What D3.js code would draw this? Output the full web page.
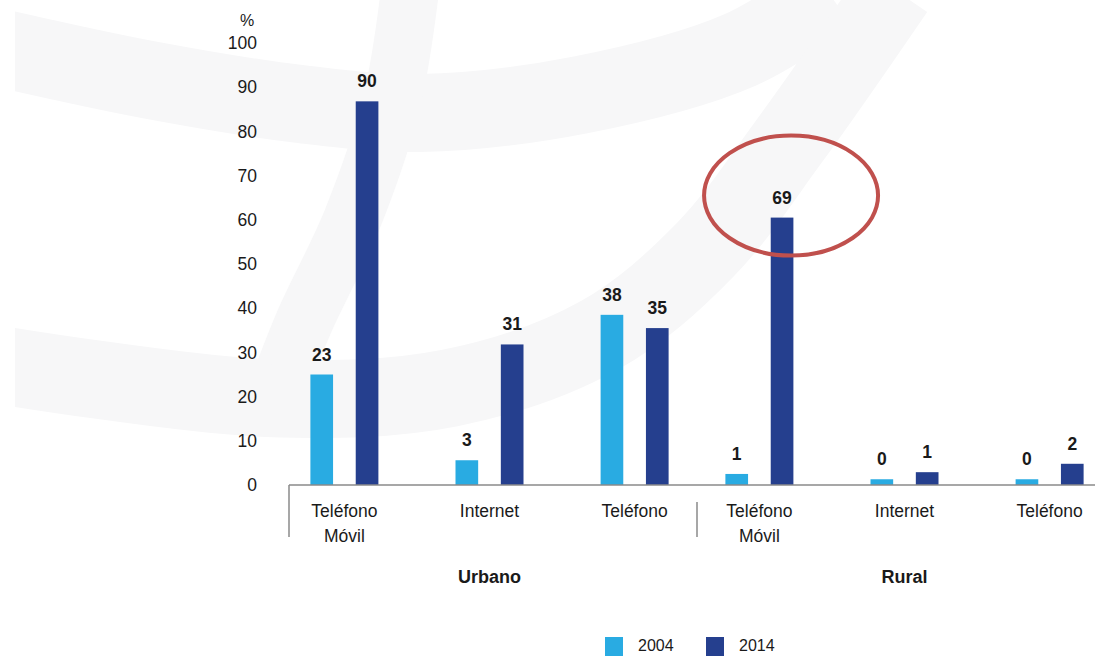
<!DOCTYPE html>
<html>
<head>
<meta charset="utf-8">
<script src="https://cdn.jsdelivr.net/npm/d3@7"></script>
<style>
  body { margin: 0; background: #fff; }
  text { font-family: "Liberation Sans", Arial, sans-serif; fill: #1a1a1a; }
</style>
</head>
<body>
<script>
// data
var regions = ["Urbano", "Rural"];
var categories = [["Teléfono", "Móvil"], ["Internet"], ["Teléfono"]];
var catKeys = ["movil", "internet", "telefono"];
var years = ["2004", "2014"];
// bar heights as drawn
var urbano2004 = [25, 5.6, 38.5];
var urbano2014 = [86.8, 31.8, 35.5];
var rural2004 = [2.5, 1.3, 1.3];
var rural2014 = [60.5, 2.9, 4.8];
// printed labels
var urbanoLbl2004 = [23, 3, 38];
var urbanoLbl2014 = [90, 31, 35];
var ruralLbl2004 = [1, 0, 0];
var ruralLbl2014 = [69, 1, 2];
var yTicks = [0, 10, 20, 30, 40, 50, 60, 70, 80, 90, 100];

var colors = { "2004": "#29abe2", "2014": "#253f8e" };

var rows = [];
regions.forEach(function (r, ri) {
  var v04 = ri == 0 ? urbano2004 : rural2004;
  var v14 = ri == 0 ? urbano2014 : rural2014;
  var l04 = ri == 0 ? urbanoLbl2004 : ruralLbl2004;
  var l14 = ri == 0 ? urbanoLbl2014 : ruralLbl2014;
  catKeys.forEach(function (c, ci) {
    rows.push({ region: r, cat: c, year: "2004", value: v04[ci], label: l04[ci] });
    rows.push({ region: r, cat: c, year: "2014", value: v14[ci], label: l14[ci] });
  });
});

var width = 1095, height = 656;
var svg = d3.select("body").append("svg")
  .attr("width", width)
  .attr("height", height);

// faint watermark in the background
var bg = svg.append("g");
svg.append("defs").append("clipPath").attr("id", "wm")
  .append("rect").attr("x", 15).attr("y", 0).attr("width", width).attr("height", height);
var wm = bg.append("g").attr("clip-path", "url(#wm)")
  .attr("fill", "none").attr("stroke", "#f7f7f8");
var curve = d3.line().curve(d3.curveCatmullRom);
wm.append("path")
  .attr("d", curve([[0, 48], [150, 80], [300, 104], [420, 113], [580, 95], [740, 50], [830, -5]]))
  .attr("stroke-width", 78);
wm.append("path")
  .attr("d", curve([[0, 365], [267, 398], [450, 388], [600, 335], [705, 250], [790, 140], [895, -10]]))
  .attr("stroke-width", 78);
wm.append("path")
  .attr("d", curve([[410, -10], [392, 100], [352, 220], [305, 320], [285, 370]]))
  .attr("stroke-width", 58);

var axisX = 289, baseY = 485;

var y = d3.scaleLinear().domain([0, 100]).range([baseY, 43]);
var x0 = d3.scaleBand().domain(regions).range([282, 1112]);
var x1 = d3.scalePoint().domain(catKeys).range([0, x0.bandwidth()]).padding(0.43);
var x2 = d3.scaleBand().domain(years).range([-34, 34]).paddingInner(0.5);

// y axis labels only
var yAxis = svg.append("g")
  .attr("transform", "translate(260,0)")
  .call(d3.axisLeft(y).tickValues(yTicks).tickSize(0).tickPadding(3));
yAxis.select(".domain").remove();
yAxis.selectAll("text")
  .style("font-family", "'Liberation Sans', Arial, sans-serif")
  .style("font-size", "17.5px")
  .attr("fill", "#1a1a1a");

svg.append("text")
  .attr("x", 247).attr("y", 26)
  .attr("text-anchor", "middle")
  .attr("font-size", "16px")
  .text("%");

// bars
var bx = function (d) { return x0(d.region) + x1(d.cat) + x2(d.year); };
svg.selectAll(".bar")
  .data(rows)
  .enter()
  .append("rect")
  .attr("class", "bar")
  .attr("x", bx)
  .attr("y", d => y(d.value))
  .attr("width", x2.bandwidth())
  .attr("height", d => baseY - y(d.value))
  .attr("fill", d => colors[d.year]);

svg.selectAll(".val")
  .data(rows)
  .enter()
  .append("text")
  .attr("class", "val")
  .attr("x", d => bx(d) + x2.bandwidth() / 2)
  .attr("y", d => y(d.value) - 14)
  .attr("text-anchor", "middle")
  .attr("font-size", "17.5px")
  .attr("font-weight", "bold")
  .text(d => d.label);

// x axis line and dividers
svg.append("line")
  .attr("x1", axisX).attr("x2", width)
  .attr("y1", baseY).attr("y2", baseY)
  .attr("stroke", "#8a8a8a").attr("stroke-width", 1.5);
svg.append("line")
  .attr("x1", axisX).attr("x2", axisX)
  .attr("y1", baseY).attr("y2", 537)
  .attr("stroke", "#8a8a8a").attr("stroke-width", 1.5);
svg.append("line")
  .attr("x1", x0("Rural")).attr("x2", x0("Rural"))
  .attr("y1", 502).attr("y2", 537)
  .attr("stroke", "#8a8a8a").attr("stroke-width", 1.5);

// category labels
regions.forEach(function (r) {
  catKeys.forEach(function (c, ci) {
    var t = svg.append("text")
      .attr("x", x0(r) + x1(c))
      .attr("y", 517)
      .attr("text-anchor", "middle")
      .attr("font-size", "17.5px");
    categories[ci].forEach(function (line, li) {
      t.append("tspan")
        .attr("x", x0(r) + x1(c))
        .attr("dy", li == 0 ? 0 : 25)
        .text(line);
    });
  });
  svg.append("text")
    .attr("x", x0(r) + x1(catKeys[1]))
    .attr("y", 583)
    .attr("text-anchor", "middle")
    .attr("font-size", "18px")
    .attr("font-weight", "bold")
    .text(r);
});

// red ellipse around the rural mobile 2014 label
var hl = rows.filter(d => d.region == "Rural" && d.cat == "movil" && d.year == "2014")[0];
svg.append("ellipse")
  .attr("cx", bx(hl) + x2.bandwidth() / 2 + 9)
  .attr("cy", y(hl.value) - 22)
  .attr("rx", 87)
  .attr("ry", 60)
  .attr("fill", "none")
  .attr("stroke", "#c0504d")
  .attr("stroke-width", 4);

// legend
var legend = svg.selectAll(".leg")
  .data(years)
  .enter()
  .append("g")
  .attr("class", "leg")
  .attr("transform", (d, i) => `translate(${605 + i * 101}, 637)`);
legend.append("rect")
  .attr("width", 18).attr("height", 22)
  .attr("fill", d => colors[d]);
legend.append("text")
  .attr("x", 33).attr("y", 14)
  .attr("font-size", "16px")
  .text(d => d);
</script>
</body>
</html>
